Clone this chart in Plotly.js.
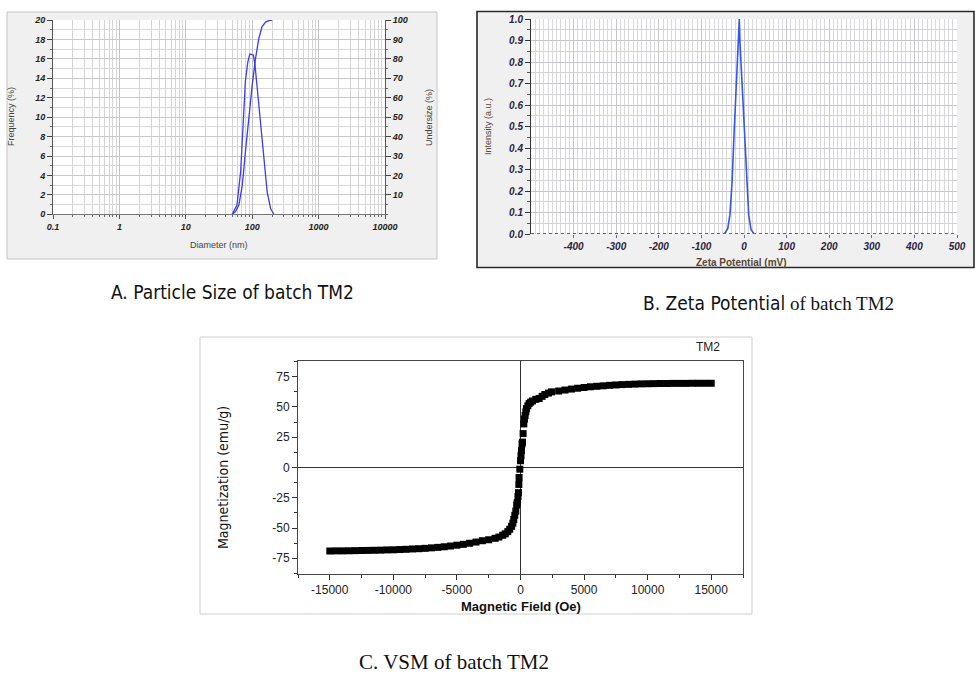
<!DOCTYPE html>
<html>
<head>
<meta charset="utf-8">
<script src="https://cdn.plot.ly/plotly-3.0.1.min.js"></script>
<style>html,body{margin:0;padding:0;background:#fff;}#chart{width:975px;height:677px;}</style>
</head>
<body>
<div id="chart"></div>
<script>
// ---------- Panel A: particle size distribution ----------
const psdDiameter = [50, 59, 67, 73, 79, 86, 92, 104, 110, 119, 134, 150, 168, 189, 212];
const psdFrequency = [0, 0.96, 4.4, 9.2, 13.7, 15.7, 16.5, 16.4, 15.4, 13.0, 9.2, 5.4, 2.3, 0.6, 0];
const undersizeDiameter = [50, 56, 63, 71, 79, 89, 100, 112, 126, 141, 159, 178, 200];
const undersizePct = [0, 1.4, 4.8, 15, 32, 51, 66.5, 80, 90.6, 96.6, 98.9, 99.7, 100];
const psdTickVals = [0.1, 1, 10, 100, 1000, 10000];
const psdTickText = ["0.1", "1", "10", "100", "1000", "10000"];
const undersizeTickVals = [10, 20, 30, 40, 50, 60, 70, 80, 90, 100];

// ---------- Panel B: zeta potential ----------
const zetaMV = [-46, -38, -33, -28, -23, -17, -12.5, -11, -9.4, -4.7, 0.8, 6.3, 11, 16.5, 24];
const zetaIntensity = [0, 0.026, 0.09, 0.24, 0.48, 0.71, 0.89, 1.0, 0.89, 0.71, 0.48, 0.24, 0.09, 0.02, 0];
const zetaTickVals = [-400, -300, -200, -100, 0, 100, 200, 300, 400, 500];
const zetaTickText = ["-400", "-300", "-200", "-100", "0", "100", "200", "300", "400", "500"];

// ---------- Panel C: VSM ----------
const fieldOe = [-15000, -14500, -14000, -13500, -13000, -12500, -12000, -11500, -11000, -10500,
  -10000, -9500, -9000, -8500, -8000, -7500, -7000, -6500, -6000, -5500,
  -5000, -4500, -4000, -3500, -3000, -2500, -2000, -1700, -1400, -1200,
  -1000, -850, -700, -600, -530, -450, -370, -300, -260, -200,
  -157, -130, -110, -55, 0, 40, 79, 120, 157, 205,
  260, 310, 362, 420, 472, 580, 677, 800, 945, 1200,
  1465, 1700, 1913, 2200, 2441, 3000, 3500, 4000, 4500, 5000,
  5500, 6000, 6500, 7000, 7500, 8000, 8500, 9000, 9500, 10000,
  10500, 11000, 11500, 12000, 12500, 13000, 13500, 14000, 14500, 15000];
const magnetization = [-69.0, -68.9, -68.9, -68.8, -68.7, -68.6, -68.5, -68.4, -68.3, -68.1,
  -68.0, -67.8, -67.6, -67.3, -67.1, -66.8, -66.4, -66.0, -65.5, -64.9,
  -64.2, -63.5, -62.6, -61.6, -60.5, -59.7, -58.5, -57.5, -56.0, -54.8,
  -53.0, -51.0, -48.6, -46.0, -43.0, -39.5, -36.0, -31.0, -29.0, -24.0,
  -20.8, -14.0, -8.3, -1.4, 5.6, 9.7, 14.0, 19.5, 21.0, 28.0,
  36.0, 40.0, 43.0, 46.0, 48.6, 51.0, 52.8, 54.0, 55.0, 56.3,
  57.0, 58.8, 60.3, 61.5, 62.5, 63.2, 64.0, 64.8, 65.5, 66.1,
  66.7, 67.1, 67.5, 67.9, 68.2, 68.5, 68.7, 68.9, 69.1, 69.2,
  69.3, 69.4, 69.4, 69.5, 69.5, 69.5, 69.6, 69.6, 69.6, 69.6];
const vsmXTickVals = [-15000, -10000, -5000, 0, 5000, 10000, 15000];
const vsmXTickText = ["-15000", "-10000", "-5000", "0", "5000", "10000", "15000"];
const vsmYTickVals = [-75, -50, -25, 0, 25, 50, 75];
const vsmYTickText = ["-75", "-50", "-25", "0", "25", "50", "75"];

// ---------- layout helpers ----------
const W = 975, H = 677;
const px = v => v / W;
const py = v => 1 - v / H;

const minorLog = [];
[0.1, 1, 10, 100, 1000].forEach(d => { for (let k = 2; k <= 9; k++) minorLog.push(+(d * k).toPrecision(3)); });

const biFont = (size, color) => ({family: "Liberation Sans, Arial, sans-serif", size: size, color: color, weight: "bold", style: "italic"});
const arial = "Liberation Sans, Arial, sans-serif";
const narrow = "Liberation Sans Narrow, Arial Narrow, DejaVu Sans Condensed, Liberation Sans, sans-serif";

const traces = [
  {x: psdDiameter, y: psdFrequency, xaxis: "x", yaxis: "y", mode: "lines",
   line: {color: "#3a3cf0", width: 1.3}, hoverinfo: "skip"},
  {x: undersizeDiameter, y: undersizePct, xaxis: "x", yaxis: "y2", mode: "lines",
   line: {color: "#3a3cf0", width: 1.3}, hoverinfo: "skip"},
  {x: zetaMV, y: zetaIntensity, xaxis: "x2", yaxis: "y3", mode: "lines",
   line: {color: "#3355f0", width: 1.6}, hoverinfo: "skip"},
  {x: fieldOe, y: magnetization, xaxis: "x3", yaxis: "y4", mode: "markers",
   marker: {symbol: "square", size: 7, color: "#000"}, hoverinfo: "skip"}
];

const layout = {
  width: W, height: H, autosize: false,
  margin: {l: 0, r: 0, t: 0, b: 0},
  paper_bgcolor: "#ffffff", plot_bgcolor: "rgba(0,0,0,0)",
  showlegend: false,
  // Panel A
  xaxis: {domain: [px(53), px(385)], anchor: "y", type: "log", range: [-1, 4],
    tickmode: "array", tickvals: psdTickVals, ticktext: psdTickText,
    tickfont: biFont(9, "#222"), ticks: "outside", ticklen: 4, tickcolor: "#555",
    showgrid: true, gridcolor: "#c2c2c2", gridwidth: 1.2,
    minor: {tickmode: "array", tickvals: minorLog, showgrid: true, gridcolor: "#d4d4d4", gridwidth: 1, ticks: "outside", ticklen: 2, tickcolor: "#666"},
    showline: true, linecolor: "#777", linewidth: 1, zeroline: false, automargin: false, fixedrange: true},
  yaxis: {domain: [py(214.3), py(20)], anchor: "x", range: [0, 20], dtick: 2, tick0: 0,
    tickfont: biFont(9, "#222"), ticks: "outside", ticklen: 5, tickcolor: "#444",
    showgrid: true, gridcolor: "#c8c8c8",
    minor: {dtick: 1, showgrid: true, gridcolor: "#d8d8d8", ticks: "outside", ticklen: 2, tickcolor: "#666"},
    showline: true, linecolor: "#555", zeroline: false, automargin: false, fixedrange: true},
  yaxis2: {overlaying: "y", anchor: "x", side: "right", range: [0, 100],
    tickmode: "array", tickvals: undersizeTickVals, tickfont: biFont(9, "#222"),
    ticks: "outside", ticklen: 5, tickcolor: "#444", showgrid: false,
    minor: {dtick: 5, ticks: "outside", ticklen: 2, tickcolor: "#666"},
    showline: true, linecolor: "#555", zeroline: false, automargin: false, fixedrange: true},
  // Panel B
  xaxis2: {domain: [px(531), px(957)], anchor: "y3", range: [-500, 500],
    tickmode: "array", tickvals: zetaTickVals, ticktext: zetaTickText,
    tickfont: biFont(10, "#2a2440"), ticks: "outside", ticklen: 3, tickcolor: "#5566cc",
    showgrid: true, gridcolor: "#c6c6cc", gridwidth: 1,
    minor: {dtick: 10, showgrid: true, gridcolor: "#d8d8dc", ticks: "", ticklen: 2},
    showline: false, zeroline: false, automargin: false, fixedrange: true},
  yaxis3: {domain: [py(234), py(19)], anchor: "x2", range: [0, 1], dtick: 0.1, tick0: 0, tickformat: ".1f",
    tickfont: biFont(10, "#2a2440"), ticks: "outside", ticklen: 5, tickcolor: "#333",
    showgrid: true, gridcolor: "#c6c6cc",
    minor: {dtick: 0.05, showgrid: true, gridcolor: "#d2d2d6", ticks: "outside", ticklen: 3, tickcolor: "#555"},
    showline: true, linecolor: "#333", zeroline: false, automargin: false, fixedrange: true},
  // Panel C
  xaxis3: {domain: [px(298), px(743)], anchor: "y4", range: [-17500, 17500],
    tickmode: "array", tickvals: vsmXTickVals, ticktext: vsmXTickText,
    tickfont: {family: arial, size: 12, color: "#222"}, ticks: "outside", ticklen: 5, tickcolor: "#333",
    minor: {dtick: 2500, tick0: 0, ticks: "outside", ticklen: 3, tickcolor: "#333"},
    showgrid: false, showline: true, mirror: true, linecolor: "#444", linewidth: 1,
    zeroline: true, zerolinecolor: "#333", zerolinewidth: 1, automargin: false, fixedrange: true},
  yaxis4: {domain: [py(574), py(361)], anchor: "x3", range: [-88, 88],
    tickmode: "array", tickvals: vsmYTickVals, ticktext: vsmYTickText,
    tickfont: {family: arial, size: 12, color: "#222"}, ticks: "outside", ticklen: 5, tickcolor: "#333",
    minor: {dtick: 12.5, tick0: 0, ticks: "outside", ticklen: 3, tickcolor: "#333"},
    showgrid: false, showline: true, mirror: true, linecolor: "#444", linewidth: 1,
    zeroline: true, zerolinecolor: "#333", zerolinewidth: 1, automargin: false, fixedrange: true},
  shapes: [
    {type: "rect", xref: "paper", yref: "paper", x0: px(7), x1: px(437), y0: py(259), y1: py(12),
     fillcolor: "#f0f0f0", line: {color: "#c4c4c4", width: 1}, layer: "below"},
    {type: "rect", xref: "paper", yref: "paper", x0: px(477), x1: px(974), y0: py(267.5), y1: py(11.5),
     fillcolor: "#f0f0f0", line: {color: "#2a2a2a", width: 1.6}, layer: "below"},
    {type: "rect", xref: "paper", yref: "paper", x0: px(200), x1: px(752), y0: py(614), y1: py(337),
     fillcolor: "#ffffff", line: {color: "#cfcfcf", width: 1}, layer: "below"},
    {type: "rect", xref: "paper", yref: "paper", x0: px(53), x1: px(385), y0: py(214.3), y1: py(20),
     fillcolor: "#ffffff", line: {width: 0}, layer: "below"},
    {type: "rect", xref: "paper", yref: "paper", x0: px(531), x1: px(957), y0: py(234), y1: py(19),
     fillcolor: "#ffffff", line: {width: 0}, layer: "below"},
    {type: "line", xref: "x2", yref: "y3", x0: -500, x1: 500, y0: 0, y1: 0,
     line: {color: "#4a5ad8", width: 2, dash: "dot"}, layer: "above"}
  ],
  annotations: [
    {text: "Frequency (%)", xref: "paper", yref: "paper", x: px(11), y: py(117), textangle: -90, showarrow: false,
     font: {family: arial, size: 9, color: "#444"}, xanchor: "center", yanchor: "middle"},
    {text: "Undersize (%)", xref: "paper", yref: "paper", x: px(429), y: py(118), textangle: -90, showarrow: false,
     font: {family: arial, size: 9, color: "#444"}, xanchor: "center", yanchor: "middle"},
    {text: "Diameter (nm)", xref: "paper", yref: "paper", x: px(219), y: py(245), showarrow: false,
     font: {family: arial, size: 9, color: "#444"}, xanchor: "center", yanchor: "middle"},
    {text: "Intensity (a.u.)", xref: "paper", yref: "paper", x: px(488), y: py(127), textangle: -90, showarrow: false,
     font: {family: arial, size: 9, color: "#5a4634"}, xanchor: "center", yanchor: "middle"},
    {text: "Zeta Potential (mV)", xref: "paper", yref: "paper", x: px(741), y: py(262), showarrow: false,
     font: {family: arial, size: 10, color: "#5a4634", weight: "bold"}, xanchor: "center", yanchor: "middle"},
    {text: "Magnetization (emu/g)", xref: "paper", yref: "paper", x: px(223), y: py(478), textangle: -90, showarrow: false,
     font: {family: narrow, size: 14, color: "#111"}, xanchor: "center", yanchor: "middle"},
    {text: "Magnetic Field (Oe)", xref: "paper", yref: "paper", x: px(521), y: py(606), showarrow: false,
     font: {family: arial, size: 13, color: "#111", weight: "bold"}, xanchor: "center", yanchor: "middle"},
    {text: "TM2", xref: "paper", yref: "paper", x: px(708), y: py(347), showarrow: false,
     font: {family: arial, size: 12, color: "#222"}, xanchor: "center", yanchor: "middle"},
    {text: "A. Particle Size of batch TM2", xref: "paper", yref: "paper", x: px(232), y: py(292), showarrow: false,
     font: {family: narrow, size: 19, color: "#111"}, xanchor: "center", yanchor: "middle"},
    {text: "B. Zeta Potential<span style=\"font-family:'Liberation Serif', 'Times New Roman', serif\"> of batch TM2</span>", xref: "paper", yref: "paper", x: px(768), y: py(303), showarrow: false,
     font: {family: narrow, size: 19, color: "#111"}, xanchor: "center", yanchor: "middle"},
    {text: "C. VSM of batch TM2", xref: "paper", yref: "paper", x: px(454), y: py(662), showarrow: false,
     font: {family: "Liberation Serif, Times New Roman, serif", size: 21, color: "#111"}, xanchor: "center", yanchor: "middle"}
  ]
};

Plotly.newPlot("chart", traces, layout, {staticPlot: true, displayModeBar: false});
</script>
</body>
</html>
